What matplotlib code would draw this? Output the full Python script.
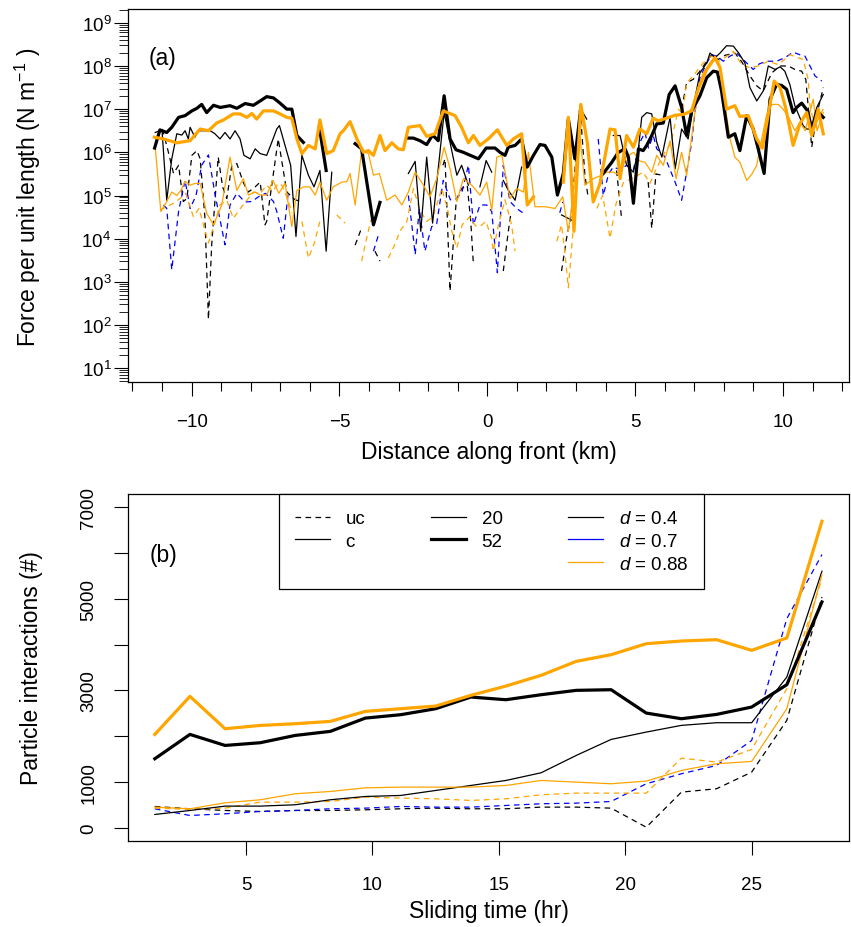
import numpy as np
import matplotlib
matplotlib.use('Agg')
import matplotlib.pyplot as plt
from matplotlib.ticker import LogLocator, LogFormatterSciNotation, NullFormatter

plt.rcParams['font.family'] = 'Liberation Sans'
plt.rcParams['mathtext.fontset'] = 'custom'
plt.rcParams['mathtext.rm'] = 'Liberation Sans'
plt.rcParams['mathtext.it'] = 'Liberation Sans:italic'

nan = np.nan

# ---- Panel (a): force per unit length along the front (log10 of N m^-1) ----
# c, 52, d = 0.4 (thick black)
tk_x = [-11.25, -11.07, -10.84, -10.67, -10.44, -10.22, -9.99, -9.82, -9.66, -9.49, -9.26, -9.03, -8.70, -8.47,
        -8.19, -7.91, -7.68, -7.46, -7.23, -7.01, -6.78, -6.61, -6.44, -6.22, nan, -5.68, -5.45, nan, -4.47, -4.25,
        -3.85, -3.63, nan, -2.67, -2.50, -2.28, -2.05, -1.85, -1.66, -1.46, -1.26, -1.06, -0.81, -0.61, -0.30, -0.04,
        0.26, 0.43, 0.60, 0.71, 0.94, 1.16, 1.35, 1.56, 1.78, 1.95, 2.18, 2.37, 2.57, 2.74, 2.96, 3.16, nan, 3.92,
        4.21, 4.43, 4.66, 4.77, 4.94, 5.11, 5.27, 5.39, 5.56, 5.73, 5.95, 6.15, 6.35, 6.57, 6.74, 6.91, 7.19, 7.42,
        7.64, 7.78, 7.92, 8.15, 8.37, 8.54, 8.77, 8.99, 9.16, 9.36, 9.56, 9.78, 9.95, 10.12, 10.34, 10.46, 10.63,
        10.83, 10.97, 11.14, 11.36]
tk_y = [6.10, 6.52, 6.46, 6.58, 6.81, 6.85, 6.96, 7.02, 7.11, 6.92, 7.09, 7.04, 7.08, 7.02,
        7.13, 7.09, 7.19, 7.29, 7.26, 7.14, 7.00, 7.00, 6.39, 6.23, nan, 6.58, 5.58, nan, 6.20, 6.08,
        4.32, 4.84, nan, 6.33, 6.33, 6.27, 6.18, 6.40, 6.27, 7.31, 6.31, 6.06, 6.00, 5.94, 5.85, 6.10,
        6.10, 6.00, 5.93, 6.12, 6.16, 6.31, 5.66, 5.93, 6.18, 6.16, 5.89, 5.01, 5.51, 6.77, 5.85, 7.02, nan, 5.51,
        5.77, 6.00, 6.08, 5.89, 4.82, 6.08, 6.04, 6.16, 6.39, 6.66, 6.68, 7.34, 7.54, 7.04, 6.39, 6.96, 7.31, 7.73,
        7.88, 7.86, 7.42, 6.35, 6.43, 6.04, 6.85, 6.54, 6.08, 5.51, 7.23, 7.57, 7.55, 7.46, 6.92, 7.04, 7.14,
        6.96, 6.54, 6.96, 6.81]

# c, 52, d = 0.88 (thick orange)
to_x = [-11.26, -10.95, -10.50, -10.05, -9.71, -9.43, -9.15, -8.92, -8.59, -8.36, -8.13, -7.96, -7.80, -7.57,
        -7.23, -7.01, -6.78, -6.61, -6.44, -6.27, -6.05, -5.82, -5.66, -5.43, -5.21, -4.98, -4.87, -4.64, -4.41,
        -4.19, -4.02, -3.85, -3.63, -3.46, -3.23, -3.01, -2.84, -2.67, -2.28, -2.05, -1.77, -1.49, -1.09, -0.87,
        -0.64, -0.47, -0.25, 0.03, 0.34, 0.66, 0.88, 1.16, 1.35, 1.56, nan, 2.57, 2.74, 2.93, 3.16, 3.38, 3.58,
        3.81, 4.15, 4.32, 4.49, 4.71, 4.94, 5.16, 5.39, 5.61, 5.78, 6.06, 6.35, 6.64, 6.91, 7.13, 7.42, 7.70,
        7.87, 8.09, 8.37, 8.54, 8.82, 9.11, 9.30, 9.70, 9.90, 10.10, 10.34, 10.57, 10.80, 10.97, 11.19, 11.36]
to_y = [6.35, 6.31, 6.22, 6.27, 6.54, 6.50, 6.68, 6.75, 6.89, 6.89, 6.81, 6.90, 6.77, 6.96,
        6.96, 6.89, 6.81, 6.79, 6.31, 5.97, 6.16, 6.08, 6.75, 5.97, 6.04, 6.43, 6.50, 6.71, 6.31,
        6.00, 6.04, 5.93, 6.39, 6.04, 6.22, 6.08, 6.06, 6.58, 6.62, 6.37, 6.43, 6.96, 6.85, 6.58,
        6.22, 6.39, 6.16, 6.31, 6.52, 6.16, 6.31, 6.43, 4.78, 4.97, nan, 5.31, 6.81, 4.17, 7.11, 6.23, 4.85,
        5.28, 6.54, 6.52, 5.39, 6.39, 6.12, 6.54, 6.43, 6.79, 6.73, 6.79, 6.86, 6.88, 6.96, 7.46, 7.92, 8.19,
        7.96, 7.00, 7.08, 6.83, 6.85, 6.31, 6.10, 7.65, 7.50, 7.00, 6.16, 6.66, 6.92, 6.39, 7.00, 6.43]

# c, 20, d = 0.4 (thin black)
sb_x = [-11.23, -11.00, -10.84, -10.67, -10.50, -10.33, -10.22, -10.11, -10.05, -9.89, -9.77, -9.54, -9.37, -9.21,
        -9.04, -8.87, -8.70, -8.53, -8.36, -8.23, -8.02, -7.85, -7.68, -7.46, -7.29, -7.12, -7.03, -6.84, -6.65,
        -6.47, -6.27, -6.05, -5.86, -5.66, -5.45, -5.26, nan, -2.67, -2.44, -2.25, -2.05, -1.85, -1.66, -1.46,
        -1.26, -1.03, -0.87, -0.64, nan, -0.25, -0.04, 0.15, nan, 0.54, 0.71, 0.94, 1.16, nan, 2.51, 2.85, nan,
        3.16, 3.36, nan, 4.26, 4.49, 4.71, 4.94, 5.11, 5.22, 5.39, 5.56, 5.73, 5.90, 6.18, 6.35, 6.57, 6.79, 6.96,
        7.19, 7.42, 7.53, 7.70, 7.87, 8.09, 8.32, 8.50, 8.71, 8.88, 9.11, 9.33, 9.50, 9.73, 9.90, 10.06, 10.23,
        10.40, 10.68, 10.80, 10.97, 11.14, 11.36]
sb_y = [6.46, 6.52, 4.89, 5.85, 6.43, 6.40, 6.50, 6.31, 6.58, 6.35, 6.50, 6.50, 6.50, 6.43,
        6.31, 6.46, 6.31, 6.50, 6.31, 5.93, 5.85, 6.08, 5.97, 5.93, 6.23, 6.54, 6.62, 6.16, 5.70,
        4.05, 5.93, 5.47, 5.20, 5.58, 3.71, 5.54, nan, 5.51, 5.79, 4.17, 5.89, 4.36, 5.62, 6.92,
        6.23, 5.47, 5.70, 5.24, nan, 5.20, 5.81, 5.54, nan, 5.35, 5.12, 4.89, 5.66, nan, 4.55, 4.43, nan,
        7.00, 6.77, nan, 6.39, 6.39, 5.70, 5.54, 6.08, 6.81, 6.92, 6.89, 6.23, 5.89, 6.81, 5.62, 6.54, 6.31, 7.04,
        7.84, 8.07, 8.30, 8.19, 8.30, 8.47, 8.46, 8.30, 8.07, 7.50, 7.19, 7.42, 8.00, 7.92, 7.98, 7.88, 7.57,
        7.08, 6.62, 6.54, 6.54, 7.04, 7.34]

# c, 20, d = 0.88 (thin orange)
so_x = [-11.23, -11.04, -10.84, -10.67, -10.50, -10.36, -10.22, -10.05, -9.88, -9.71, -9.49, -9.26, -8.98, -8.70,
        -8.47, -8.25, -8.08, -7.85, -7.68, -7.46, -7.25, -7.05, -6.84, -6.61, -6.44, -6.20, -6.00, -5.82, -5.66,
        -5.43, -5.21, -4.92, -4.75, -4.64, -4.47, -4.25, -4.02, -3.85, -3.65, -3.40, -3.12, -2.89, -2.67, -2.44,
        -2.16, -1.94, -1.71, -1.46, -1.26, -1.03, -0.81, -0.53, -0.25, -0.02, 0.15, 0.32, 0.49, 0.77, 0.99, 1.22,
        1.39, 1.61, 1.95, 2.29, 2.55, 2.74, 2.90, 3.10, 3.30, 3.58, 3.80, 4.04, 4.26, 4.49, 4.70, 4.95, 5.15,
        5.33, 5.56, 5.73, 5.95, 6.18, 6.38, 6.57, 6.74, 6.96, 7.13, 7.30, 7.53, 7.70, 7.87, 8.04, 8.21, 8.37,
        8.54, 8.77, 8.95, 9.11, 9.28, 9.45, 9.62, 9.84, 10.00, 10.20, 10.40, 10.57, 10.75, 11.02, 11.15, 11.25,
        11.36]
so_y = [6.12, 4.63, 4.86, 5.08, 5.00, 5.12, 5.33, 5.24, 5.28, 5.28, 4.59, 4.32, 4.78, 5.89,
        5.12, 5.39, 5.01, 5.08, 5.01, 5.01, 5.35, 5.05, 5.28, 4.28, 5.12, 5.20, 5.20, 5.01, 5.31,
        4.89, 5.20, 5.31, 5.32, 5.51, 4.78, 6.04, 5.97, 5.47, 5.51, 4.89, 5.01, 4.78, 5.08, 5.54,
        5.24, 4.97, 5.39, 6.12, 5.62, 4.86, 5.39, 5.24, 5.01, 5.31, 4.66, 5.89, 5.93, 4.93, 5.16, 5.08,
        6.00, 4.74, 4.74, 4.70, 4.97, 4.17, 5.00, 6.60, 5.24, 5.39, 5.45, 5.54, 5.54, 5.47, 5.90, 6.00, 5.80,
        5.77, 5.54, 5.93, 5.70, 6.27, 5.39, 6.00, 5.47, 6.62, 7.50, 7.84, 8.07, 8.23, 8.00, 7.08, 6.31, 5.89,
        5.77, 5.35, 5.50, 5.70, 6.31, 6.89, 7.11, 7.11, 7.00, 6.80, 6.50, 6.70, 6.50, 7.23, 6.50, 6.70,
        6.92]

# uc, d = 0.4 (dashed black)
dk_x = [-11.00, -10.84, -10.61, -10.44, -10.28, -10.16, -9.99, -9.82, -9.71, -9.55, -9.43, -9.32, -9.10, -8.95,
        -8.81, -8.64, -8.47, -8.25, -8.08, -7.85, -7.68, -7.52, -7.46, -7.07, -6.78, -6.50, -6.27, nan, -4.47,
        -4.25, nan, -3.80, -3.63, nan, -1.50, -1.43, -1.26, -1.05, -0.87, -0.68, -0.56, -0.47, nan, 0.54, 0.71,
        0.80, nan, 2.51, 2.68, 2.85, 3.13, 3.30, 3.40, nan, 4.37, 4.54, nan, 5.44, 5.56, 5.70, 5.90, nan, 6.57,
        6.74, 6.96, 7.19, 7.42, 7.59, 7.80, 8.05, 8.37, 8.60, 8.88, 9.11, 9.33, 9.62, 9.90, 10.18, 10.40, 10.63,
        10.77, 10.97, 11.15, 11.36]
dk_y = [6.54, 6.16, 5.51, 5.70, 4.86, 4.93, 5.93, 6.04, 5.85, 4.50, 2.13, 3.86, 5.89, 5.20,
        4.93, 5.70, 5.74, 5.30, 5.08, 5.20, 5.31, 4.32, 4.40, 6.31, 5.08, 4.90, 4.86, nan, 3.85,
        4.25, nan, 3.71, 3.48, nan, 5.70, 5.85, 2.79, 4.90, 5.16, 5.24, 4.40, 3.40, nan, 3.25, 4.17,
        4.60, nan, 3.25, 4.01, 4.60, 7.08, 5.47, 5.00, nan, 5.58, 4.47, nan, 5.31, 4.24, 5.50, 5.47, nan, 7.00,
        7.61, 7.69, 7.88, 8.11, 8.26, 8.15, 8.25, 8.30, 8.10, 7.77, 7.54, 7.42, 7.84, 8.00, 8.00, 7.92, 7.88,
        7.69, 6.12, 6.90, 7.50]

# uc, d = 0.7 (dashed blue)
db_x = [-10.95, -10.84, -10.67, -10.44, -10.22, -10.05, -9.85, -9.66, -9.43, -9.20, -8.87, -8.70, -8.47, -8.20,
        -7.96, -7.74, -7.50, -7.23, -7.12, -6.90, -6.73, nan, -3.85, -3.68, nan, -2.67, -2.50, -2.44, -2.30,
        -2.11, -1.88, -1.71, -1.49, -1.25, -1.03, -0.85, -0.64, -0.47, -0.25, -0.02, 0.15, 0.34, 0.54, 0.77,
        0.99, 1.22, nan, 2.45, 2.55, nan, 3.10, 3.15, 3.25, nan, 3.75, 3.92, 4.10, 4.26, 4.49, 4.71, 4.94, 5.16,
        5.33, 5.45, 5.61, 5.73, 6.00, 6.35, 6.57, 6.74, 6.91, 7.02, 7.19, 7.42, 7.59, 7.76, 7.98, 8.21, 8.43,
        8.71, 8.99, 9.20, 9.45, 9.78, 10.06, 10.34, 10.57, 10.74, 10.91, 11.08, 11.31]
db_y = [4.78, 4.70, 3.28, 4.63, 5.35, 4.70, 5.00, 5.70, 5.94, 5.00, 3.86, 4.78, 5.05, 4.85,
        4.86, 4.97, 5.05, 4.86, 4.63, 4.01, 5.08, nan, 3.71, 4.09, nan, 5.00, 4.01, 3.63, 4.70,
        3.71, 4.28, 4.35, 5.35, 4.90, 4.93, 5.10, 5.70, 4.32, 4.78, 4.78, 4.63, 3.21, 5.70, 4.86,
        4.70, 4.59, nan, 4.60, 4.85, nan, 6.50, 7.15, 6.60, nan, 6.31, 5.00, 5.50, 5.66, 5.60, 5.70, 5.60, 6.23,
        6.46, 6.10, 6.39, 6.08, 5.90, 5.31, 4.89, 5.54, 6.23, 6.92, 7.73, 8.07, 8.26, 8.23, 8.11, 8.23, 8.30,
        8.11, 7.92, 8.05, 8.11, 8.11, 8.19, 8.32, 8.26, 8.23, 8.00, 7.77, 7.65]

# uc, d = 0.88 (dashed orange)
do_x = [-11.07, -10.84, -10.61, -10.39, -10.20, -9.94, -9.75, -9.54, -9.43, -9.20, -9.04, -8.81, -8.59, -8.35,
        -8.13, -7.91, -7.68, -7.46, -7.25, -7.07, -6.95, -6.80, -6.60, nan, -6.27, -6.05, -5.85, -5.66, nan,
        -5.09, -4.81, nan, -4.25, -4.13, -3.95, -3.80, nan, -3.35, -3.10, -2.96, -2.72, -2.50, -2.28, -2.05,
        -1.85, -1.71, -1.54, -1.35, -1.20, -1.03, -0.85, -0.60, -0.40, -0.25, -0.05, 0.15, 0.20, 0.40, 0.60,
        0.82, 0.94, nan, 2.35, 2.51, 2.62, 2.74, 2.90, 3.05, 3.20, nan, 3.70, 3.90, 4.15, 4.35, 4.60, 4.90,
        5.27, 5.50, 5.70, 6.00, 6.20, 6.46, 6.60, 6.74, 6.96, 7.30, 7.59, 7.80, 8.05, 8.32, 8.60, 8.88, 9.16,
        9.50, 9.84, 10.23, 10.68, 10.85, 10.91, 11.08, 11.20, 11.36]
do_y = [4.66, 4.74, 4.82, 4.93, 5.05, 4.51, 4.70, 4.17, 3.90, 4.40, 4.78, 4.89, 4.47, 4.70,
        4.89, 5.08, 5.05, 5.24, 5.10, 5.28, 5.24, 5.00, 4.60, nan, 4.40, 3.55, 3.90, 4.40, nan,
        4.55, 4.36, nan, 3.48, 3.86, 4.40, 4.60, nan, 3.55, 3.90, 4.17, 4.40, 5.16, 4.66, 4.40,
        4.50, 4.78, 5.16, 4.70, 4.17, 3.78, 4.32, 4.50, 4.30, 4.28, 4.40, 4.01, 3.71, 4.40, 4.90,
        4.32, 3.71, nan, 3.94, 4.32, 3.70, 2.86, 4.20, 6.00, 6.80, nan, 4.70, 5.00, 4.01, 4.80, 5.30, 5.40,
        5.54, 5.28, 5.60, 6.00, 6.20, 7.00, 6.90, 7.61, 7.77, 8.07, 8.23, 8.10, 8.20, 8.34, 8.03, 7.96, 8.00,
        8.11, 8.03, 8.26, 8.15, 7.69, 7.08, 6.58, 6.80, 7.00]

# ---- Panel (b): particle interactions vs sliding time ----
hours = [1.39, 2.78, 4.17, 5.56, 6.94, 8.33, 9.72, 11.11, 12.50, 13.89,
         15.28, 16.67, 18.06, 19.44, 20.83, 22.22, 23.61, 25.00, 26.39, 27.78]
b_c52_d04 = [1512, 2042, 1802, 1861, 2020, 2108, 2398, 2471, 2602, 2856,
             2798, 2907, 3002, 3016, 2507, 2384, 2478, 2638, 3125, 4928]
b_c52_d088 = [2042, 2871, 2166, 2238, 2275, 2326, 2544, 2602, 2660, 2893,
              3096, 3329, 3634, 3779, 4019, 4077, 4106, 3874, 4143, 6687]
b_c20_d04 = [298, 385, 480, 480, 509, 618, 690, 712, 821, 930,
             1039, 1206, 1584, 1933, 2093, 2239, 2297, 2297, 3292, 5596]
b_c20_d088 = [458, 422, 552, 618, 749, 799, 879, 894, 894, 894,
              930, 1039, 1003, 967, 1025, 1257, 1403, 1454, 2602, 5524]
b_uc_d04 = [472, 422, 385, 363, 385, 385, 400, 422, 436, 422,
            422, 458, 458, 436, 20, 785, 858, 1221, 2348, 5037]
b_uc_d07 = [422, 276, 313, 363, 385, 422, 436, 472, 458, 458,
            494, 531, 545, 581, 967, 1185, 1366, 1911, 4564, 5960]
b_uc_d088 = [436, 407, 436, 567, 567, 581, 676, 654, 640, 603,
             640, 727, 763, 763, 763, 1526, 1439, 1715, 3038, 5436]

ORANGE = '#FFA500'
BLUE = '#0000FF'
THIN = 0.9
THICK = 2.3
DASH = (0, (4.5, 3.5))

fig = plt.figure(figsize=(8.51, 9.28), dpi=100)

# ---------------- panel (a) ----------------
ax1 = fig.add_axes([128 / 851, 1 - 383 / 928, 721 / 851, 373 / 928])
series_a = [
    (dk_x, dk_y, 'black', THIN, DASH),
    (db_x, db_y, BLUE, THIN, DASH),
    (do_x, do_y, ORANGE, THIN, DASH),
    (sb_x, sb_y, 'black', THIN, '-'),
    (so_x, so_y, ORANGE, THIN, '-'),
    (tk_x, tk_y, 'black', THICK, '-'),
    (to_x, to_y, ORANGE, THICK, '-'),
]
for xs, ls_, col, lw, sty in series_a:
    ax1.plot(xs, 10 ** np.array(ls_, dtype=float), color=col, lw=lw, linestyle=sty)

ax1.set_yscale('log')
ax1.set_xlim(-12.15, 12.23)
ax1.set_ylim(10 ** 0.68, 10 ** 9.32)
ax1.set_xticks([-10, -5, 0, 5, 10])
ax1.set_xticks(range(-12, 13), minor=True)
ax1.set_xticklabels(['\u221210', '\u22125', '0', '5', '10'])
ax1.yaxis.set_major_locator(LogLocator(base=10, numticks=12))
ax1.yaxis.set_minor_locator(LogLocator(base=10, subs=np.arange(2, 10), numticks=12))
ax1.yaxis.set_major_formatter(LogFormatterSciNotation())
ax1.yaxis.set_minor_formatter(NullFormatter())
ax1.tick_params(axis='x', which='major', length=10, width=0.8, labelsize=13.5, pad=12)
ax1.tick_params(axis='x', which='minor', length=6.5, width=0.8)
ax1.tick_params(axis='y', which='major', length=10, width=0.8, labelsize=13.5, pad=2)
ax1.tick_params(axis='y', which='minor', length=6.5, width=0.6)
ax1.text(0.028, 0.871, '(a)', transform=ax1.transAxes, fontsize=16.5, va='center', ha='left')

fig.text(488.5 / 851, 1 - 453 / 928, 'Distance along front (km)', ha='center', va='center', fontsize=16.5)
fig.text(28 / 851, 1 - 197 / 928, 'Force per unit length (N m$^{-1}$ )', ha='center', va='center',
         rotation=90, fontsize=16.5)

# ---------------- panel (b) ----------------
ax2 = fig.add_axes([128 / 851, 1 - 842 / 928, 721 / 851, 347 / 928])
series_b = [
    (b_uc_d04, 'black', THIN, DASH),
    (b_uc_d07, BLUE, THIN, DASH),
    (b_uc_d088, ORANGE, THIN, DASH),
    (b_c20_d04, 'black', THIN, '-'),
    (b_c20_d088, ORANGE, THIN, '-'),
    (b_c52_d04, 'black', THICK, '-'),
    (b_c52_d088, ORANGE, THICK, '-'),
]
for vals, col, lw, sty in series_b:
    ax2.plot(hours, vals, color=col, lw=lw, linestyle=sty)

ax2.set_xlim(0.33, 28.85)
ax2.set_ylim(-280, 7280)
ax2.set_xticks([5, 10, 15, 20, 25])
yt = list(range(0, 8000, 1000))
ax2.set_yticks(yt)
ax2.set_yticklabels([str(v) if v in (0, 1000, 3000, 5000, 7000) else '' for v in yt],
                    rotation=90, va='center')
ax2.tick_params(axis='x', length=10, width=0.8, labelsize=13.5, pad=15)
ax2.tick_params(axis='y', length=10, width=0.8, labelsize=13.5, pad=12)
ax2.text(0.030, 0.827, '(b)', transform=ax2.transAxes, fontsize=16.5, va='center', ha='left')

fig.text(488.5 / 851, 1 - 912 / 928, 'Sliding time (hr)', ha='center', va='center', fontsize=16.5)
fig.text(32 / 851, 1 - 668.5 / 928, 'Particle interactions (#)', ha='center', va='center',
         rotation=90, fontsize=16.5)

# legend: three columns (slip type, width, d)
h_uc, = ax2.plot([], [], color='black', lw=THIN, linestyle=DASH)
h_c, = ax2.plot([], [], color='black', lw=THIN)
h_20, = ax2.plot([], [], color='black', lw=THIN)
h_52, = ax2.plot([], [], color='black', lw=THICK)
h_d1, = ax2.plot([], [], color='black', lw=THIN)
h_d2, = ax2.plot([], [], color=BLUE, lw=THIN)
h_d3, = ax2.plot([], [], color=ORANGE, lw=THIN)
h_blank, = ax2.plot([], [], color='none')
handles = [h_uc, h_c, h_blank, h_20, h_52, h_blank, h_d1, h_d2, h_d3]
labels = ['uc', 'c', '', '20', '52', '', '$d$ = 0.4', '$d$ = 0.7', '$d$ = 0.88']
leg = ax2.legend(handles, labels, ncol=3, loc='upper left', bbox_to_anchor=(151 / 721, 1.0),
                 fontsize=13.5, frameon=True, fancybox=False, edgecolor='black', framealpha=1,
                 handlelength=1.85, handletextpad=0.85, columnspacing=3.5, labelspacing=0.3,
                 borderpad=0.85, borderaxespad=0)
leg.get_frame().set_linewidth(0.9)

for ax in (ax1, ax2):
    for sp in ax.spines.values():
        sp.set_linewidth(0.9)

fig.savefig('out.png', dpi=100)
